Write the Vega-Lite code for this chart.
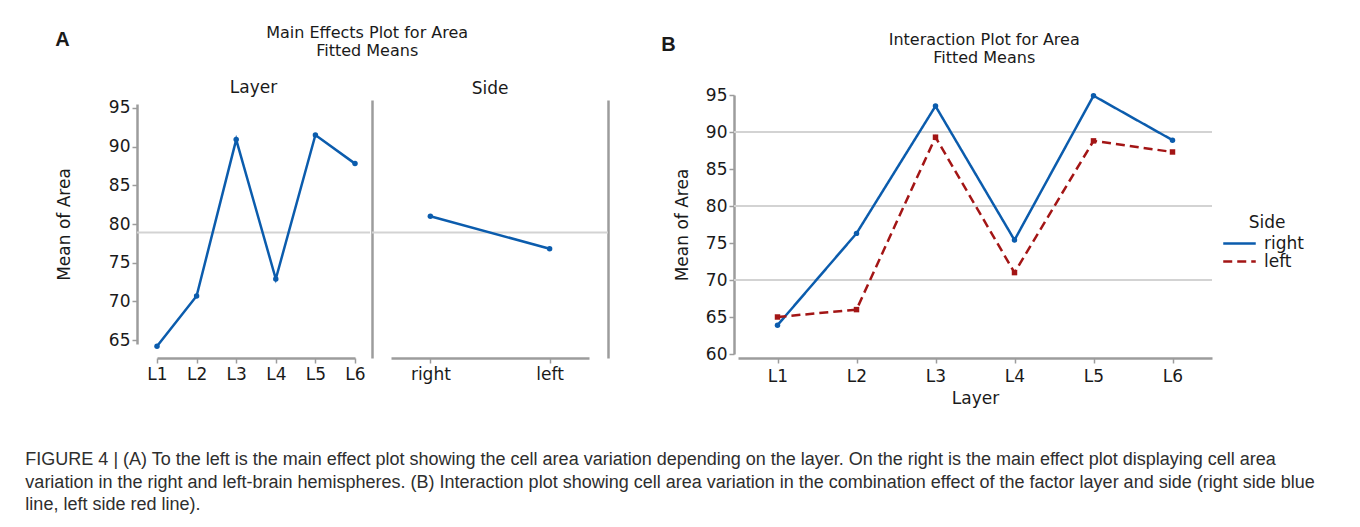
{
  "$schema": "https://vega.github.io/schema/vega-lite/v6.json",
  "padding": {"left": 25, "top": 24, "right": 0, "bottom": 0},
  "background": "white",
  "config": {
    "font": "DejaVu Sans",
    "view": {"stroke": null},
    "axis": {
      "labelFont": "DejaVu Sans", "titleFont": "DejaVu Sans",
      "labelColor": "#1a1a1a", "titleColor": "#1a1a1a",
      "domainColor": "#9c9c9c", "tickColor": "#9c9c9c",
      "domainWidth": 2.5, "tickWidth": 1.5, "tickSize": 5,
      "labelFontSize": 17, "titleFontSize": 17, "titleFontWeight": "normal",
      "labelOverlap": false, "grid": false
    },
    "title": {"font": "DejaVu Sans", "fontWeight": "normal", "fontSize": 16, "color": "#1a1a1a"},
    "legend": {"labelFont": "DejaVu Sans", "titleFont": "DejaVu Sans"}
  },
  "datasets": {
    "layer": [
      {"Layer": "L1", "Mean": 64.2},
      {"Layer": "L2", "Mean": 70.7},
      {"Layer": "L3", "Mean": 90.9},
      {"Layer": "L4", "Mean": 72.9},
      {"Layer": "L5", "Mean": 91.5},
      {"Layer": "L6", "Mean": 87.8}
    ],
    "side": [
      {"Side": "right", "Mean": 81.0},
      {"Side": "left", "Mean": 76.8}
    ],
    "grand": [{"grand": 78.9}],
    "gridlines": [{"Grid": 70}, {"Grid": 80}, {"Grid": 90}],
    "inter": [
      {"Layer": "L1", "Side": "right", "Mean": 63.9},
      {"Layer": "L2", "Side": "right", "Mean": 76.3},
      {"Layer": "L3", "Side": "right", "Mean": 93.5},
      {"Layer": "L4", "Side": "right", "Mean": 75.4},
      {"Layer": "L5", "Side": "right", "Mean": 94.9},
      {"Layer": "L6", "Side": "right", "Mean": 88.9},
      {"Layer": "L1", "Side": "left", "Mean": 65.0},
      {"Layer": "L2", "Side": "left", "Mean": 66.0},
      {"Layer": "L3", "Side": "left", "Mean": 89.3},
      {"Layer": "L4", "Side": "left", "Mean": 71.0},
      {"Layer": "L5", "Side": "left", "Mean": 88.8},
      {"Layer": "L6", "Side": "left", "Mean": 87.3}
    ]
  },
  "title": {
    "text": [
      "FIGURE 4 | (A) To the left is the main effect plot showing the cell area variation depending on the layer. On the right is the main effect plot displaying cell area",
      "variation in the right and left-brain hemispheres. (B) Interaction plot showing cell area variation in the combination effect of the factor layer and side (right side blue",
      "line, left side red line)."
    ],
    "orient": "bottom", "anchor": "start", "font": "Liberation Sans", "fontSize": 18,
    "fontWeight": "normal", "color": "#2e2e2e", "lineHeight": 22.5, "offset": 45, "dx": -30
  },
  "spacing": 52,
  "hconcat": [
    {
      "title": {"text": "A", "anchor": "start", "font": "Liberation Sans", "fontWeight": "bold", "fontSize": 20, "dy": 29},
      "hconcat": [
        {
          "title": {"text": ["Main Effects Plot for Area", "Fitted Means"], "anchor": "middle", "frame": "bounds", "dx": 35, "offset": 20, "lineHeight": 18},
          "spacing": 0,
          "hconcat": [
            {
              "title": {"text": "Layer", "offset": 2, "fontSize": 17},
              "width": 233, "height": 258,
              "layer": [
                {
                  "data": {"name": "grand"},
                  "mark": {"type": "rule", "color": "#d3d3d3", "strokeWidth": 2},
                  "encoding": {"y": {"field": "grand", "type": "quantitative",
                    "scale": {"domain": [64.5, 95.5], "range": [244, 4], "nice": false, "zero": false},
                    "axis": {"values": [65, 70, 75, 80, 85, 90, 95], "title": "Mean of Area", "titlePadding": 35, "labelPadding": 2, "labelOverlap": false}}}
                },
                {
                  "data": {"name": "layer"},
                  "mark": {"type": "line", "color": "#0b5cad", "strokeWidth": 2.5, "point": {"filled": true, "size": 30, "color": "#0b5cad"}},
                  "encoding": {
                    "x": {"field": "Layer", "type": "ordinal",
                      "scale": {"type": "point", "range": [20, 218], "padding": 0},
                      "axis": {"title": null, "labelAngle": 0, "labelPadding": 3}},
                    "y": {"field": "Mean", "type": "quantitative",
                      "scale": {"domain": [64.5, 95.5], "range": [244, 4], "nice": false, "zero": false},
                      "axis": {"values": [65, 70, 75, 80, 85, 90, 95], "title": "Mean of Area", "titlePadding": 35, "labelPadding": 2, "labelOverlap": false}}
                  }
                }
              ]
            },
            {
              "title": {"text": "Side", "offset": 2, "fontSize": 17},
              "width": 236, "height": 258,
              "layer": [
                {
                  "data": {"name": "grand"},
                  "mark": {"type": "rule", "color": "#d3d3d3", "strokeWidth": 2},
                  "encoding": {"y": {"field": "grand", "type": "quantitative",
                    "scale": {"domain": [62.69, 96.01], "nice": false, "zero": false},
                    "axis": {"orient": "right", "labels": false, "ticks": false, "title": null}}}
                },
                {
                  "data": {"name": "side"},
                  "mark": {"type": "line", "color": "#0b5cad", "strokeWidth": 2.5, "point": {"filled": true, "size": 30, "color": "#0b5cad"}},
                  "encoding": {
                    "x": {"field": "Side", "type": "ordinal", "sort": ["right", "left"],
                      "scale": {"type": "point", "range": [19, 217], "padding": 0.33},
                      "axis": {"title": null, "labelAngle": 0, "labelPadding": 3}},
                    "y": {"field": "Mean", "type": "quantitative",
                      "scale": {"domain": [62.69, 96.01], "nice": false, "zero": false},
                      "axis": {"orient": "left", "labels": false, "ticks": false, "title": null}}
                  }
                }
              ],
              "resolve": {"scale": {"y": "independent"}, "axis": {"y": "independent"}}
            }
          ]
        }
      ]
    },
    {
      "title": {"text": "B", "anchor": "start", "font": "Liberation Sans", "fontWeight": "bold", "fontSize": 20, "dy": 27, "dx": -12},
      "hconcat": [
        {
          "title": {"text": ["Interaction Plot for Area", "Fitted Means"], "anchor": "middle", "frame": "bounds", "dx": 41, "offset": 20, "lineHeight": 18},
          "width": 478, "height": 258,
          "data": {"name": "inter"},
          "layer": [
            {
              "data": {"name": "gridlines"},
              "mark": {"type": "rule", "color": "#d3d3d3", "strokeWidth": 2},
              "encoding": {"y": {"field": "Grid", "type": "quantitative",
                "scale": {"domain": [60, 95], "range": [254, -5], "nice": false, "zero": false},
                "axis": {"values": [60, 65, 70, 75, 80, 85, 90, 95], "tickCount": 8, "title": "Mean of Area", "titlePadding": 14, "labelPadding": 2, "labelOverlap": false, "grid": false}}}
            },
            {
              "mark": {"type": "line", "strokeWidth": 2.5},
              "encoding": {
                "x": {"field": "Layer", "type": "ordinal",
                  "scale": {"type": "point", "range": [4, 478], "padding": 0.5},
                  "axis": {"title": "Layer", "labelAngle": 0, "labelPadding": 5, "titlePadding": 6}},
                "y": {"field": "Mean", "type": "quantitative",
                  "scale": {"domain": [60, 95], "range": [254, -5], "nice": false, "zero": false},
                  "axis": {"values": [60, 65, 70, 75, 80, 85, 90, 95], "tickCount": 8, "title": "Mean of Area", "titlePadding": 14, "labelPadding": 2, "labelOverlap": false, "grid": false}},
                "color": {"field": "Side", "type": "nominal",
                  "scale": {"domain": ["right", "left"], "range": ["#0b5cad", "#a31515"]},
                  "legend": {
                    "title": "Side", "orient": "none", "legendX": 1094, "legendY": 115,
                    "titleAnchor": "middle", "titleFontSize": 17, "titleFontWeight": "normal", "titleColor": "#1a1a1a",
                    "titlePadding": 3, "labelFontSize": 17, "labelColor": "#1a1a1a", "rowPadding": 0,
                    "symbolType": "M-2.3,0H2.3", "symbolSize": 200, "symbolStrokeWidth": 2.5, "labelOffset": 16
                  }},
                "strokeDash": {"field": "Side", "type": "nominal",
                  "scale": {"domain": ["right", "left"], "range": [[1, 0], [9, 5]]},
                  "legend": {
                    "title": "Side", "orient": "none", "legendX": 1094, "legendY": 115,
                    "titleAnchor": "middle", "titleFontSize": 17, "titleFontWeight": "normal", "titleColor": "#1a1a1a",
                    "titlePadding": 3, "labelFontSize": 17, "labelColor": "#1a1a1a", "rowPadding": 0,
                    "symbolType": "M-2.3,0H2.3", "symbolSize": 200, "symbolStrokeWidth": 2.5, "labelOffset": 16
                  }}
              }
            },
            {
              "transform": [{"filter": "datum.Side === 'right'"}],
              "mark": {"type": "point", "filled": true, "size": 30, "opacity": 1, "color": "#0b5cad", "shape": "circle"},
              "encoding": {
                "x": {"field": "Layer", "type": "ordinal"},
                "y": {"field": "Mean", "type": "quantitative",
                  "axis": {"values": [60, 65, 70, 75, 80, 85, 90, 95], "tickCount": 8, "title": "Mean of Area", "titlePadding": 14, "labelPadding": 2, "labelOverlap": false, "grid": false}}
              }
            },
            {
              "transform": [{"filter": "datum.Side === 'left'"}],
              "mark": {"type": "point", "filled": true, "size": 30, "opacity": 1, "color": "#a31515", "shape": "square"},
              "encoding": {
                "x": {"field": "Layer", "type": "ordinal"},
                "y": {"field": "Mean", "type": "quantitative",
                  "axis": {"values": [60, 65, 70, 75, 80, 85, 90, 95], "tickCount": 8, "title": "Mean of Area", "titlePadding": 14, "labelPadding": 2, "labelOverlap": false, "grid": false}}
              }
            }
          ]
        }
      ]
    }
  ]
}
